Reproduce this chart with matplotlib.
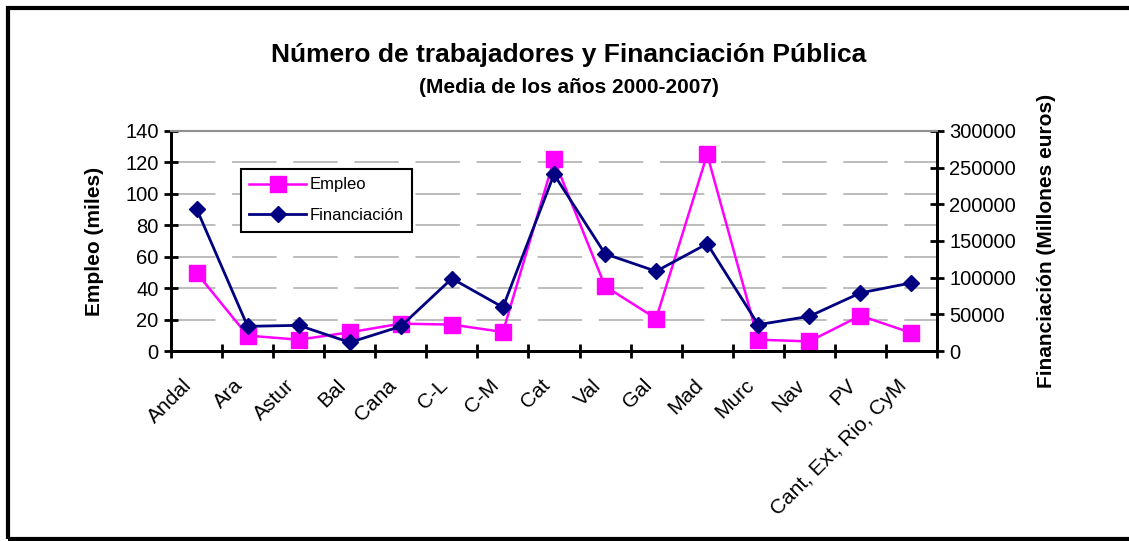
import numpy as np
import matplotlib
matplotlib.use("Agg")
import matplotlib.pyplot as plt
from matplotlib.patches import Rectangle
from matplotlib.ticker import MultipleLocator, FixedLocator
from matplotlib.transforms import ScaledTranslation

plt.rcParams['font.family'] = ['Liberation Sans', 'DejaVu Sans']
plt.rcParams['lines.scale_dashes'] = False

regiones = ["Andal", "Ara", "Astur", "Bal", "Cana", "C-L", "C-M", "Cat", "Val",
            "Gal", "Mad", "Murc", "Nav", "PV", "Cant, Ext, Rio, CyM"]
empleo = [49.7, 9.8, 7.2, 11.9, 17.4, 16.8, 12.1, 121.9, 41.2, 20.6, 125.1, 7.2, 6.1, 22.5, 11.5]
financiacion = [194000, 33600, 35000, 11700, 33600, 98800, 59600, 240800, 132500,
                108700, 146200, 35900, 47300, 79200, 92900]

x = np.arange(len(regiones))

fig = plt.figure(figsize=(11.29, 5.41), dpi=100)
ax = fig.add_axes([0.1515, 0.3512, 0.6784, 0.4067])
ax2 = ax.twinx()

l1, = ax.plot(x, empleo, color='#FF00FF', lw=1.8, marker='s', ms=11,
              markeredgecolor='#FF00FF', label='Empleo')
l2, = ax2.plot(x, financiacion, color='#000080', lw=2.0, marker='D', ms=8,
               markeredgecolor='#000080', label='Financiación')

ax.set_xlim(-0.5, len(regiones) - 0.5)
ax.set_ylim(0, 140)
ax2.set_ylim(0, 300000)
ax.yaxis.set_major_locator(MultipleLocator(20))
ax2.yaxis.set_major_locator(MultipleLocator(50000))

# gridlines
for v in range(20, 140, 20):
    ax.axhline(v, color='#b0b0b0', lw=1.2, ls=(0, (32, 12)), zorder=0)

ax.set_xticks(x)
ax.set_xticklabels(regiones, rotation=45, ha='right', rotation_mode='anchor')
ax.tick_params(axis='x', which='major', length=0, pad=12, labelsize=15)
off = ScaledTranslation(-14 / 100, -8 / 100, fig.dpi_scale_trans)
for lab in ax.get_xticklabels():
    lab.set_transform(lab.get_transform() + off)
ax.xaxis.set_minor_locator(FixedLocator(np.arange(-0.5, len(regiones), 1.0)))
ax.tick_params(axis='x', which='minor', direction='inout', length=10, width=2)
ax.tick_params(axis='y', direction='inout', length=10, width=2, labelsize=14.5, pad=4)
ax2.tick_params(axis='y', direction='inout', length=10, width=2, labelsize=14.5, pad=4)

for a in (ax, ax2):
    a.spines['left'].set_linewidth(2)
    a.spines['bottom'].set_linewidth(2)
    a.spines['right'].set_linewidth(2)
    a.spines['top'].set_color('#909090')
    a.spines['top'].set_linewidth(1.5)

ax.set_ylabel('Empleo (miles)', fontsize=15, fontweight='bold')
ax.yaxis.set_label_coords(-0.087, 0.5)
ax2.set_ylabel('Financiación (Millones euros)', fontsize=15, fontweight='bold')
ax2.yaxis.set_label_coords(1.131, 0.5)

leg = ax2.legend(handles=[l1, l2], loc='upper left', bbox_to_anchor=(0.0914, 0.827),
                 borderaxespad=0, fontsize=12, handlelength=3.4, labelspacing=0.95,
                 fancybox=False, framealpha=1, edgecolor='black', handletextpad=0.2,
                 borderpad=0.5)
leg.get_frame().set_linewidth(1.5)

fig.text(0.504, 0.899, 'Número de trabajadores y Financiación Pública',
         ha='center', va='center', fontsize=19, fontweight='bold')
fig.text(0.504, 0.838, '(Media de los años 2000-2007)',
         ha='center', va='center', fontsize=15, fontweight='bold')

# outer frame
fig.patches.append(Rectangle((0.0071, 0.0028), 1.2, 0.983, transform=fig.transFigure,
                             fill=False, edgecolor='black', lw=3, clip_on=False))

fig.savefig('out.png', dpi=100)
